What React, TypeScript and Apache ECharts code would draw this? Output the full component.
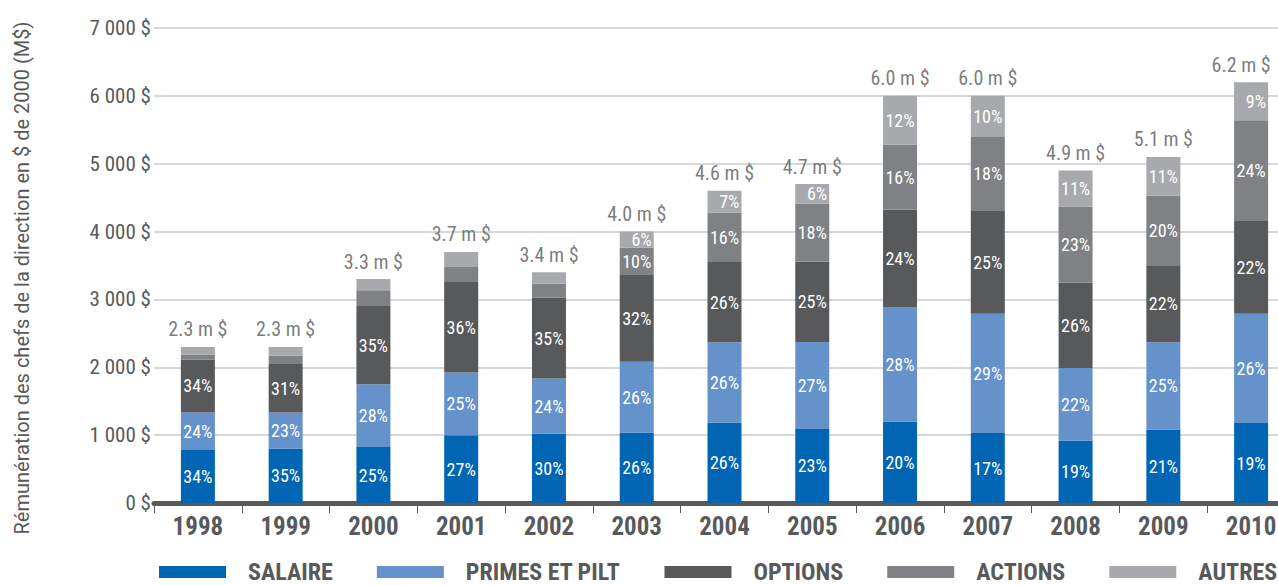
import React, { useEffect, useRef } from "react";
import * as echarts from "echarts";

// Executive compensation, in 2000 dollars, split by component
const years = ["1998", "1999", "2000", "2001", "2002", "2003", "2004", "2005", "2006", "2007", "2008", "2009", "2010"];
// Total per year, in millions (as printed above each bar)
const totals = [2.3, 2.3, 3.3, 3.7, 3.4, 4.0, 4.6, 4.7, 6.0, 6.0, 4.9, 5.1, 6.2];
// Share of each component, in percent of the yearly total
const salaireShare = [34, 35, 25, 27, 30, 26, 26, 23, 20, 17, 19, 21, 19];
const primesShare = [24, 23, 28, 25, 24, 26, 26, 27, 28, 29, 22, 25, 26];
const optionsShare = [34, 31, 35, 36, 35, 32, 26, 25, 24, 25, 26, 22, 22];
const actionsShare = [3, 5.5, 7, 6, 6, 10, 16, 18, 16, 18, 23, 20, 24];
const autresShare = [5, 5.5, 5, 6, 5, 6, 7, 6, 12, 10, 11, 11, 9];
// Whether the share is printed inside the segment
const actionsLabelled = [false, false, false, false, false, true, true, true, true, true, true, true, true];
const autresLabelled = [false, false, false, false, false, true, true, true, true, true, true, true, true];

const seriesNames = ["SALAIRE", "PRIMES ET PILT", "OPTIONS", "ACTIONS", "AUTRES"];
const colors = ["#0066b3", "#6592cb", "#58595b", "#808184", "#a7a9ac"];
const yTicks = { min: 0, max: 7000, interval: 1000 };

const NARROW = "'Liberation Sans Narrow', 'Arial Narrow', 'Roboto Condensed', 'DejaVu Sans Condensed', Roboto, sans-serif";
const TEXT = "#58595b";

function fmtAxis(v: number): string {
  if (v >= 1000) return `${Math.floor(v / 1000)} ${String(v % 1000).padStart(3, "0")} $`;
  return `${v} $`;
}

export default function App() {
  const ref = useRef<HTMLDivElement>(null);

  useEffect(() => {
    if (!ref.current) return;
    const chart = echarts.init(ref.current, undefined, { renderer: "svg" });

    const shares = [salaireShare, primesShare, optionsShare, actionsShare, autresShare];
    const labelledFlags = [null, null, null, actionsLabelled, autresLabelled];
    const shareSums = years.map((_, i) => shares.reduce((s, arr) => s + arr[i], 0));

    const barSeries = shares.map((arr, k) => ({
      name: seriesNames[k],
      type: "bar",
      stack: "total",
      barWidth: 34,
      itemStyle: { color: colors[k] },
      data: arr.map((share, i) => {
        const flags = labelledFlags[k];
        const show = flags ? flags[i] : true;
        return {
          value: (totals[i] * 1000 * share) / shareSums[i],
          share,
          label: {
            show,
            position: share < 10 ? "insideRight" : "inside",
            distance: 2,
          },
        };
      }),
      label: {
        color: "#ffffff",
        fontFamily: NARROW,
        fontSize: 18,
        formatter: (p: any) => `${p.data.share}%`,
      },
    }));

    const lastIdx = totals.length - 1;

    chart.setOption({
      animation: false,
      color: colors,
      grid: { left: 154, right: 5, top: 28, bottom: 82, containLabel: false },
      legend: {
        data: seriesNames,
        left: 159,
        top: 560,
        padding: 0,
        itemWidth: 67,
        itemHeight: 12,
        itemGap: 44,
        icon: "rect",
        selectedMode: false,
        textStyle: {
          fontFamily: NARROW,
          fontWeight: "bold",
          fontSize: 24,
          lineHeight: 24,
          color: TEXT,
          padding: [0, 0, 0, 17],
        },
      },
      xAxis: {
        type: "category",
        data: years,
        axisLine: { lineStyle: { color: TEXT, width: 5 } },
        axisTick: { show: true, interval: 0, length: 10, lineStyle: { color: TEXT, width: 1 } },
        axisLabel: {
          interval: 0,
          margin: 11,
          color: TEXT,
          fontFamily: NARROW,
          fontWeight: "bold",
          fontSize: 25,
        },
      },
      yAxis: {
        type: "value",
        min: yTicks.min,
        max: yTicks.max,
        interval: yTicks.interval,
        axisLine: { show: false },
        axisTick: { show: false },
        splitLine: { lineStyle: { color: "#d6d7d8", width: 2 } },
        axisLabel: {
          margin: 3,
          color: TEXT,
          fontFamily: NARROW,
          fontSize: 21,
          formatter: fmtAxis,
        },
      },
      graphic: [
        {
          type: "text",
          x: 22,
          y: 278,
          rotation: Math.PI / 2,
          style: {
            text: "Rémunération des chefs de la direction en $ de 2000 (M$)",
            fill: TEXT,
            fontFamily: "Roboto, sans-serif",
            fontSize: 20,
            align: "center",
            verticalAlign: "middle",
          },
        },
      ],
      series: [
        ...barSeries,
        {
          name: "total",
          type: "scatter",
          symbolSize: 1,
          itemStyle: { color: "rgba(0,0,0,0)" },
          // the last year's total sits near the right edge, so its label is nudged left
          data: totals.map((t, i) =>
            i === lastIdx ? { value: t * 1000, label: { offset: [-10, 0] } } : t * 1000
          ),
          label: {
            show: true,
            position: "top",
            distance: 7,
            color: TEXT,
            fontFamily: NARROW,
            fontSize: 20,
            formatter: (p: any) => `${totals[p.dataIndex].toFixed(1)} m $`,
          },
          z: 5,
        },
      ],
    });

    return () => chart.dispose();
  }, []);

  return (
    <div style={{ position: "fixed", left: 0, top: 0, width: 1278, height: 585, overflow: "hidden", background: "#fff" }}>
      <div ref={ref} style={{ width: 1300, height: 585 }} />
    </div>
  );
}
